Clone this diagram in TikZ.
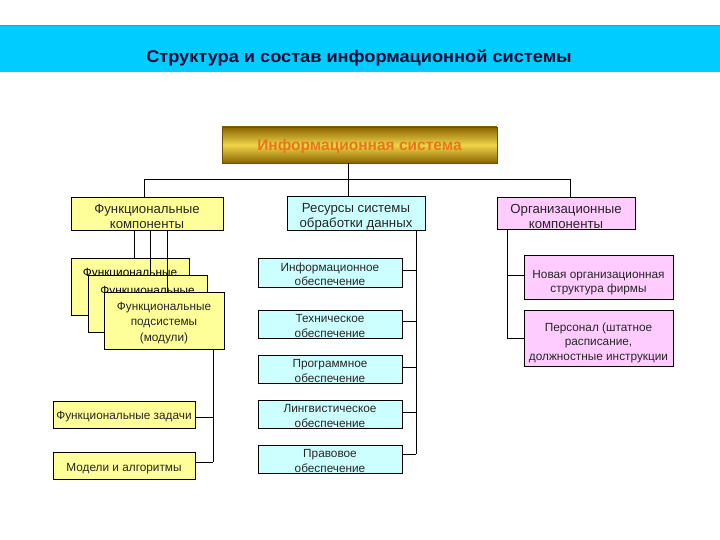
\documentclass[tikz,border=0pt]{standalone}
\usepackage{fontspec}
\setmainfont{Liberation Sans}
\newfontfamily\titlefont[FakeStretch=1.07]{Liberation Sans}
\definecolor{banner}{HTML}{00CCFF}
\definecolor{bannerline}{HTML}{00B4CC}
\definecolor{yel}{HTML}{FFFF99}
\definecolor{cya}{HTML}{CCFFFF}
\definecolor{pnk}{HTML}{FFCCFF}
\definecolor{goldD}{HTML}{8A6400}
\definecolor{goldL}{HTML}{F0D448}
\definecolor{isText}{HTML}{E8761A}
\definecolor{titleC}{HTML}{0A0A3A}
\newcommand{\mystrutB}{\rule{0pt}{16pt}}
\newcommand{\mystrutS}{\rule{0pt}{12.5pt}}
\begin{document}
\begin{tikzpicture}[x=1pt,y=-1pt,
  base/.style={draw=black, line width=0.8pt, inner sep=0pt, align=center, text=black!85},
  ybox/.style={base, fill=yel},
  cbox/.style={base, fill=cya},
  pbox/.style={base, fill=pnk},
  big/.style={font=\fontsize{13.2}{15}\selectfont},
  small/.style={font=\fontsize{11.8}{14.5}\selectfont},
  conn/.style={draw=black, line width=0.8pt}
]
\useasboundingbox (0,0) rectangle (720,540);
% banner
\fill[banner] (0,25) rectangle (720,72);
\draw[bannerline, line width=1.5pt] (0,25.5) -- (720,25.5);
\node[font=\fontsize{17}{18}\titlefont\bfseries, text=titleC, inner sep=0pt] (title) at (359,58) {Структура и состав информационной системы};

% top box
\node[draw=goldD!80!black, line width=0.6pt, top color=goldD, bottom color=goldD, middle color=goldL,
  minimum width=275pt, minimum height=36pt, inner sep=0pt,
  font=\fontsize{15.5}{17}\selectfont\bfseries, text=isText] (is) at (359.5,145) {\rule{0pt}{14pt}Информационная система};

% level 1
\node[ybox, big, minimum width=152pt, minimum height=33pt] (fk) at (147,213.5) {\mystrutB Функциональные\\компоненты};
\node[cbox, big, minimum width=138pt, minimum height=33pt] (rs) at (356,213.5) {\mystrutB Ресурсы системы\\обработки данных};
\node[pbox, big, minimum width=138pt, minimum height=32pt] (ok) at (566,213) {\mystrutB Организационные\\компоненты};

\coordinate (jL) at (144,179);
\coordinate (jM) at (348,179);
\coordinate (jR) at (570,179);
\draw[conn] (is.south -| jM) -- (jM);
\draw[conn] (jL) -- (jR);
\draw[conn] (jL) -- (fk.north -| jL);
\draw[conn] (jM) -- (rs.north -| jM);
\draw[conn] (jR) -- (ok.north -| jR);

% stacked functional subsystems
\node[ybox, minimum width=118pt, minimum height=57pt] (b1) at (130,286.5) {};
\node[small, inner sep=0pt] (b1t) at (130,273.5) {Функциональные};
\node[ybox, minimum width=119pt, minimum height=57pt] (b2) at (147.5,303.5) {};
\node[small, inner sep=0pt] (b2t) at (147.5,291.5) {Функциональные};
\node[ybox, font=\fontsize{11.8}{15.5}\selectfont, minimum width=120pt, minimum height=57pt] (b3) at (164,320.5) {\rule{0pt}{13pt}Функциональные\\подсистемы\\(модули)};
\coordinate (s1) at (134,0);
\coordinate (s2) at (150,0);
\coordinate (s3) at (167,0);
\draw[conn] (fk.south -| s1) -- (b1.north -| s1);
\draw[conn] (fk.south -| s2) -- (b2.north -| s2);
\draw[conn] (fk.south -| s3) -- (b3.north -| s3);

% functional tasks
\node[ybox, small, minimum width=142pt, minimum height=27pt] (fz) at (124,414.5) {\mystrutS Функциональные задачи};
\node[ybox, small, minimum width=142pt, minimum height=27pt] (ma) at (124,465.5) {\rule{0pt}{14pt}Модели и алгоритмы};
\coordinate (tv) at (213,0);
\coordinate (fzc) at (213,417);
\coordinate (mac) at (213,462);
\draw[conn] (b3.south -| tv) -- (mac);
\draw[conn] (fzc) -- (fz.east |- fzc);
\draw[conn] (mac) -- (ma.east |- mac);

% resources
\node[cbox, small, minimum width=144pt, minimum height=29pt] (ie) at (330,272.5) {\mystrutS Информационное\\обеспечение};
\node[cbox, small, minimum width=144pt, minimum height=28pt] (te) at (330,324) {\mystrutS Техническое\\обеспечение};
\node[cbox, small, minimum width=144pt, minimum height=28pt] (pe) at (330,369) {\mystrutS Программное\\обеспечение};
\node[cbox, small, minimum width=144pt, minimum height=28pt] (le) at (330,414) {\mystrutS Лингвистическое\\обеспечение};
\node[cbox, small, minimum width=144pt, minimum height=28pt] (pr) at (330,459) {\mystrutS Правовое\\обеспечение};
\coordinate (rv) at (416,0);
\coordinate (c1) at (416,270);
\coordinate (c2) at (416,321);
\coordinate (c3) at (416,367);
\coordinate (c4) at (416,412);
\coordinate (c5) at (416,454);
\draw[conn] (rs.south -| rv) -- (c5);
\draw[conn] (c1) -- (ie.east |- c1);
\draw[conn] (c2) -- (te.east |- c2);
\draw[conn] (c3) -- (pe.east |- c3);
\draw[conn] (c4) -- (le.east |- c4);
\draw[conn] (c5) -- (pr.east |- c5);

% organizational
\node[pbox, font=\fontsize{11.8}{14}\selectfont, minimum width=149pt, minimum height=44pt] (nv) at (598.5,277) {\rule{0pt}{20pt}Новая организационная\\структура фирмы};
\node[pbox, font=\fontsize{11.8}{14.5}\selectfont, minimum width=149pt, minimum height=56pt] (pe2) at (598.5,338) {\rule{0pt}{18pt}Персонал (штатное\\расписание,\\должностные инструкции};
\coordinate (ov) at (507,0);
\coordinate (o1) at (507,275);
\coordinate (o2) at (507,338);
\draw[conn] (ok.south -| ov) -- (o2);
\draw[conn] (o1) -- (nv.west |- o1);
\draw[conn] (o2) -- (pe2.west |- o2);
\end{tikzpicture}
\end{document}
